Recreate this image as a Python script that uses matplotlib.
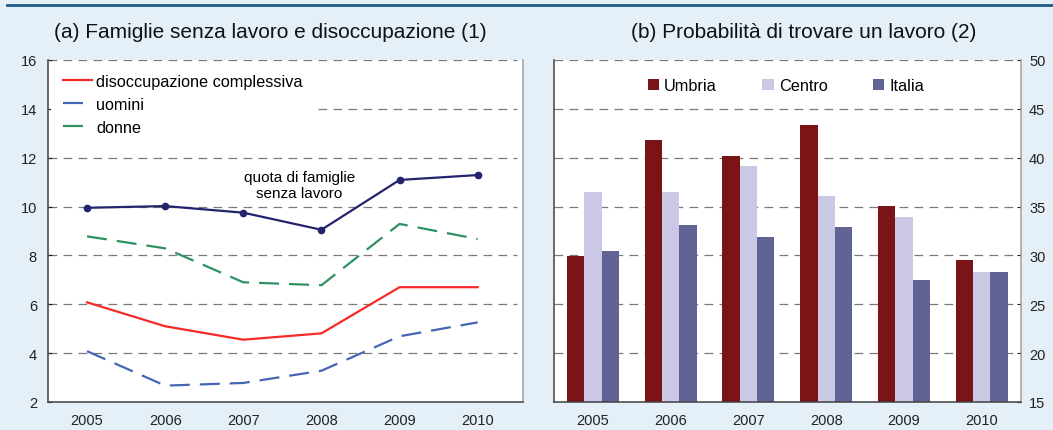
import matplotlib
matplotlib.use('Agg')
import matplotlib.pyplot as plt
from matplotlib.lines import Line2D
import numpy as np

plt.rcParams['font.family'] = ['Liberation Sans', 'DejaVu Sans']

# dati pannello (a)
anni = [2005, 2006, 2007, 2008, 2009, 2010]
famiglie_senza_lavoro = [9.95, 10.02, 9.75, 9.05, 11.09, 11.29]
disocc_totale = [6.08, 5.1, 4.55, 4.81, 6.7, 6.7]
disocc_uomini = [4.08, 2.67, 2.78, 3.28, 4.69, 5.26]
disocc_donne = [8.78, 8.29, 6.9, 6.78, 9.29, 8.67]

# dati pannello (b)
anni_b = ['2005', '2006', '2007', '2008', '2009', '2010']
umbria = [29.95, 41.8, 40.2, 43.35, 35.05, 29.53]
centro = [36.5, 36.5, 39.18, 36.1, 33.96, 28.3]
italia = [30.45, 33.1, 31.9, 32.9, 27.48, 28.3]

bg = '#e4eff7'
W, H = 1053, 431
fig = plt.figure(figsize=(W / 100, H / 100), dpi=100, facecolor=bg)

# riga blu in alto
fig.add_artist(Line2D([7 / W, 1], [1 - 6 / H, 1 - 6 / H], color='#1d5a86', lw=2))

grid_kw = dict(color='#7a7a7a', lw=0.9, linestyle=(0, (7, 5)))
tick_size = 10.5

# ---------------- pannello (a)
ax1 = fig.add_axes([48 / W, 28 / H, 475 / W, 342 / H])
ax1.set_facecolor('white')
ax1.set_xlim(2004.5, 2010.58)
ax1.set_ylim(2, 16)
for v in range(4, 17, 2):
    ax1.hlines(v, 2004.5, 2010.5, zorder=0.5, **grid_kw)

ax1.plot(anni, disocc_totale, color='#f52a2a', lw=1.6, label='disoccupazione complessiva')
ax1.plot(anni, disocc_uomini, color='#4466b4', lw=1.6, linestyle=(0, (9, 4.5)), label='uomini')
ax1.plot(anni, disocc_donne, color='#2e9160', lw=1.6, linestyle=(0, (9, 4.5)), label='donne')
ax1.plot(anni, famiglie_senza_lavoro, color='#23236e', lw=1.6, marker='o', markersize=4.5)

ax1.text(2007.72, 10.88, 'quota di famiglie\nsenza lavoro', ha='center', va='center',
         fontsize=11, linespacing=1.2)

ax1.set_xticks(anni)
ax1.set_yticks(range(2, 17, 2))
ax1.tick_params(axis='both', direction='in', length=3, labelsize=tick_size, colors='#222222')
ax1.tick_params(axis='y', pad=8)
ax1.tick_params(axis='x', pad=8, length=0)
ax1.spines['top'].set_visible(False)
ax1.spines['right'].set_color('#a0a0a0')
ax1.spines['left'].set_color('#404040')
ax1.spines['bottom'].set_color('#404040')
for s in ax1.spines.values():
    s.set_linewidth(1.1)

leg1 = ax1.legend(loc='upper left', bbox_to_anchor=(0.0, 1.005), fontsize=11.7,
                  handlelength=1.75, handletextpad=0.25, labelspacing=0.5,
                  borderpad=0.75, borderaxespad=0.2, frameon=True)
leg1.get_frame().set_facecolor('white')
leg1.get_frame().set_edgecolor('none')
leg1.get_frame().set_alpha(1)
leg1.get_frame().set_boxstyle('square', pad=0)

fig.text(270 / W, 1 - 33 / H, '(a) Famiglie senza lavoro e disoccupazione (1)',
         ha='center', va='center', fontsize=15, color='#111111')

# ---------------- pannello (b)
ax2 = fig.add_axes([554 / W, 28 / H, 466.7 / W, 342 / H])
ax2.set_facecolor('white')
x = np.arange(len(anni_b))
bw = 0.223
ax2.bar(x - bw, umbria, bw, color='#7b1416', label='Umbria', zorder=2)
ax2.bar(x, centro, bw, color='#cac8e4', label='Centro', zorder=2)
ax2.bar(x + bw, italia, bw, color='#616394', label='Italia', zorder=2)
ax2.set_xlim(-0.5, 5.5)
ax2.set_ylim(15, 50)
for v in range(20, 51, 5):
    ax2.axhline(v, zorder=0.5, **grid_kw)

ax2.set_xticks(x)
ax2.set_xticklabels(anni_b)
ax2.set_yticks(range(15, 51, 5))
ax2.yaxis.tick_right()
ax2.tick_params(axis='both', direction='in', length=3, labelsize=tick_size, colors='#222222')
ax2.tick_params(axis='y', pad=6)
ax2.tick_params(axis='x', pad=8, length=0)
ax2.spines['top'].set_visible(False)
ax2.spines['right'].set_color('#a0a0a0')
ax2.spines['left'].set_color('#404040')
ax2.spines['bottom'].set_color('#404040')
for s in ax2.spines.values():
    s.set_linewidth(1.1)

ax2.legend(loc='upper center', bbox_to_anchor=(0.497, 0.99), ncol=3, fontsize=11.7,
           frameon=False, handlelength=0.7, handleheight=0.7, handletextpad=0.3,
           columnspacing=2.8)

fig.text(804 / W, 1 - 33 / H, '(b) Probabilità di trovare un lavoro (2)',
         ha='center', va='center', fontsize=15, color='#111111')

fig.savefig('out.png', dpi=100, facecolor=bg)
